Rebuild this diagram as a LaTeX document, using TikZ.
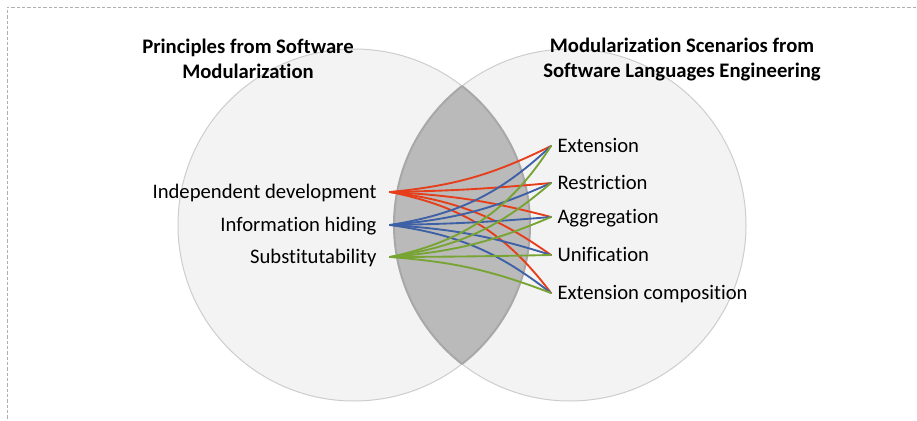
\documentclass[tikz,border=0pt]{standalone}
\usepackage{fontspec}
\setmainfont{Carlito}[Ligatures={NoCommon}]
\tikzset{every picture/.style={line width=0.75pt}}
\definecolor{linkred}{RGB}{230,62,26}
\definecolor{linkblue}{RGB}{62,96,166}
\definecolor{linkgreen}{RGB}{120,164,52}
\definecolor{circfill}{RGB}{243,243,243}
\definecolor{circline}{RGB}{205,205,205}
\definecolor{lensfill}{RGB}{186,186,186}
\definecolor{lensline}{RGB}{168,168,168}

\begin{document}
\begin{tikzpicture}[x=0.75pt,y=0.75pt,yscale=-1,xscale=1,
	label/.style={font=\fontsize{15.5}{18}\selectfont, inner ysep=0pt, text height=12pt, text depth=2pt},
	leftlabel/.style={label, anchor=east, inner xsep=9.75pt},
	rightlabel/.style={label, anchor=west, inner xsep=4.5pt},
	title/.style={font=\bfseries\fontsize{15.5}{18.75}\selectfont, align=center},
	link/.style={line width=1.4pt, line cap=round}]
	\useasboundingbox (0,0) rectangle (917,421);

	%Straight Lines [id:frame] 
	\draw [color={rgb, 255:red, 175; green, 175; blue, 175 }, dash pattern={on 2.5pt off 1.5pt}] (7,440) -- (7,7) -- (940,7) ;
	%Shape: Circle [id:left] 
	\draw [fill=circfill, draw=circline] (354,225) circle (176) ;
	%Shape: Circle [id:right] 
	\draw [fill=circfill, draw=circline] (570,225) circle (176) ;
	%Shape: Lens [id:overlap] 
	\begin{scope}
	\clip (354,225) circle (176) ;
	\draw [fill=lensfill, draw=lensline, line width=1.5pt] (570,225) circle (176) ;
	\end{scope}
	\begin{scope}
	\clip (570,225) circle (176) ;
	\draw [draw=lensline, line width=1.5pt] (354,225) circle (176) ;
	\end{scope}

	% Text Node
	\node [title] (ttlL) at (248,59) {Principles from Software\\Modularization};
	% Text Node
	\node [title] (ttlR) at (682,59) {Modularization Scenarios from\\Software Languages Engineering};
	% Text Node
	\node [leftlabel] (dev) at (390,192) {Independent development};
	% Text Node
	\node [leftlabel] (hid) at (390,225) {Information hiding};
	% Text Node
	\node [leftlabel] (sub) at (390,257) {Substitutability};
	% Text Node
	\node [rightlabel] (ext) at (551,146) {Extension};
	% Text Node
	\node [rightlabel] (res) at (551,183) {Restriction};
	% Text Node
	\node [rightlabel] (agg) at (551,217) {Aggregation};
	% Text Node
	\node [rightlabel] (uni) at (551,255) {Unification};
	% Text Node
	\node [rightlabel] (com) at (551,293) {Extension composition};

	%Curve Lines [id:links] 
	\foreach \src/\sy/\col in {dev/192/linkred, hid/225/linkblue, sub/257/linkgreen}
	\foreach \dst/\dy in {ext/146, res/183, agg/217, uni/255, com/293}{
		\pgfmathsetmacro{\aup}{atan2(\sy-\dy,161)}
		\pgfmathsetmacro{\aout}{-0.35*\aup}
		\pgfmathsetmacro{\ain}{180-1.65*\aup}
		\draw [link, \col] (\src.east) to [out=\aout, in=\ain] (\dst.west) ;
	}

\end{tikzpicture}
\end{document}
